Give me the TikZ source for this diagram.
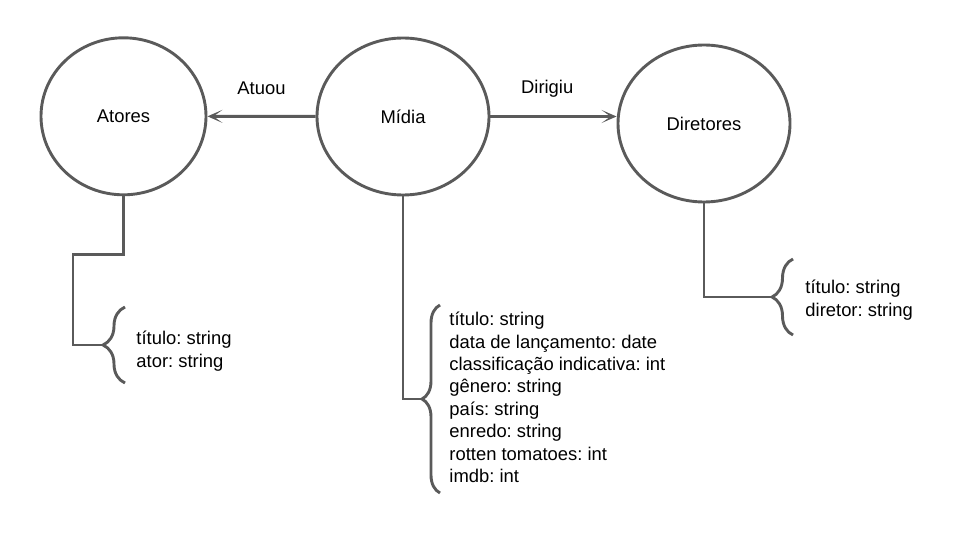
\documentclass[tikz,border=0pt]{standalone}
\usepackage{fontspec}
\setmainfont{Liberation Sans}
\usetikzlibrary{arrows.meta,shapes.geometric,decorations.pathreplacing}
\definecolor{linegray}{RGB}{90,90,90}
\frenchspacing

\begin{document}
\begin{tikzpicture}[x=1pt,y=-1pt,->,>={Stealth[length=15pt,width=13pt,inset=9pt]},line width=2.9pt,color=linegray,text=black,
  font=\fontsize{18.4}{22.4}\selectfont,
  entity/.style={shape=ellipse, draw=linegray, minimum width=#1, minimum height=157pt},
  attrs/.style={anchor=west, align=left, inner sep=0pt},
  bracket/.style={-, decorate, decoration={brace, amplitude=#1}}]
\useasboundingbox (0,0) rectangle (960,540);
\node[entity=165pt] (A) at (123.5,116.3) {Atores};
\node[entity=172pt] (M) at (403,116.5) {Mídia};
\node[entity=172pt] (D) at (704,123.5) {Diretores};
\path (M) edge node[above=17pt] {Atuou} (A)
	(M.east) edge node[above=14pt, pos=.45] {Dirigiu} (D.west |- M.east);
% atributos
\coordinate (ta) at (103,345);
\coordinate (tm) at (422,399);
\coordinate (td) at (772,297);
\draw[-] (A.south) -- ++(0,58) -| (73,345) -- (ta);
\draw[-] (M.south) |- (tm);
\draw[-] (D.south) |- (td);
\draw[bracket=22pt] (125,383) -- (125,307);
\draw[bracket=18pt] (440,493) -- (440,305);
\draw[bracket=21pt] (793,335) -- (793,259);
\node[attrs] (AT) at (135,351) {título: string\\ator: string};
\node[attrs] (MT) at (448,397.5) {título: string\\data de lançamento: date\\classificação indicativa: int\\gênero: string\\país: string\\enredo: string\\rotten tomatoes: int\\imdb: int};
\node[attrs] (DT) at (804,300) {título: string\\diretor: string};
\end{tikzpicture}
\end{document}
